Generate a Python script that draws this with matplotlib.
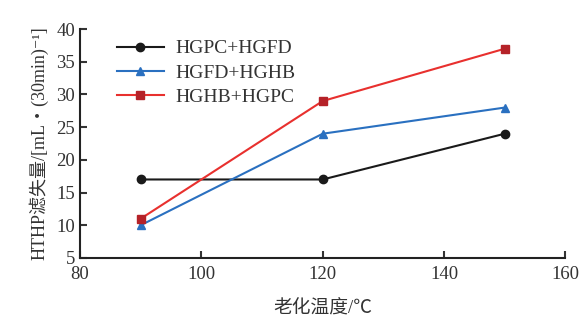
import matplotlib
matplotlib.use("Agg")
import matplotlib.pyplot as plt

plt.rcParams['font.family'] = ['Liberation Serif', 'Noto Sans CJK SC', 'DejaVu Serif']

temps = [90, 120, 150]
hgpc_hgfd = [17, 17, 24]
hgfd_hghb = [10, 24, 28]
hghb_hgpc = [11, 29, 37]
labels = ["HGPC+HGFD", "HGFD+HGHB", "HGHB+HGPC"]

fig = plt.figure(figsize=(5.82, 3.2), dpi=100)
ax = fig.add_axes([0.1375, 0.194, 0.834, 0.715])

ax.plot(temps, hgpc_hgfd, color="#1a1a1a", marker="o", markersize=6, lw=1.5, label=labels[0])
ax.plot(temps, hgfd_hghb, color="#2a70c0", marker="^", markersize=6, lw=1.5, label=labels[1])
ax.plot(temps, hghb_hgpc, color="#e8302e", marker="s", markersize=6, lw=1.5,
        markerfacecolor="#b52228", markeredgecolor="#b52228", label=labels[2])

ax.set_xlim(80, 160)
ax.set_ylim(5, 40)
ax.set_xticks([80, 100, 120, 140, 160])
ax.set_yticks(range(5, 41, 5))
ax.tick_params(direction="in", length=5, width=1.5, labelsize=13.5, colors="#333333")
ax.tick_params(axis="x", pad=6)
for s in ["top", "right"]:
    ax.spines[s].set_visible(False)
for s in ["left", "bottom"]:
    ax.spines[s].set_linewidth(1.5)
    ax.spines[s].set_color("#222222")

ax.set_xlabel("老化温度/℃", fontsize=13.5, color="#333333", labelpad=12)
ax.set_ylabel("HTHP滤失量/[mL・(30min)⁻¹]", fontsize=13, color="#333333", labelpad=6)

leg = ax.legend(loc="upper left", bbox_to_anchor=(0.04, 1.03), frameon=False,
                fontsize=14, handlelength=2.4, labelspacing=0.35, handletextpad=0.6)
for t in leg.get_texts():
    t.set_color("#333333")

fig.savefig("out.png", dpi=100)
